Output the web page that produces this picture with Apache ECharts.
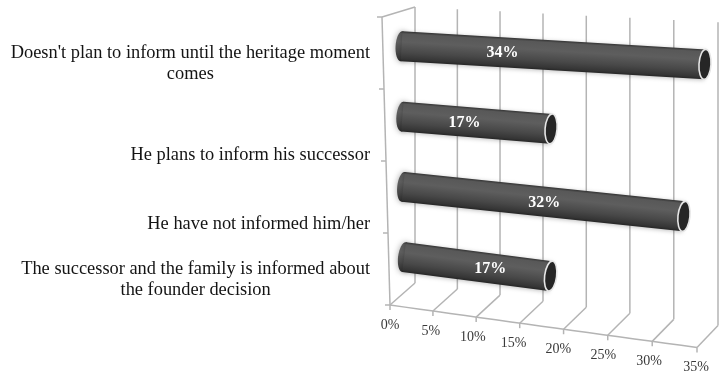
<!DOCTYPE html>
<html>
<head>
<meta charset="utf-8">
<script src="https://cdn.jsdelivr.net/npm/echarts@6/dist/echarts.min.js"></script>
<style>
  html, body { margin: 0; padding: 0; background: #ffffff; }
  #chart { width: 720px; height: 374px; }
</style>
</head>
<body>
<div id="chart"></div>
<script>
// Survey answers: has the founder informed the successor?
const categories = [
  "Doesn't plan to inform until the heritage moment comes",
  'He plans to inform his successor',
  'He have not informed him/her',
  'The successor and the family is informed about the founder decision'
];
const shares = [34, 17, 32, 17];
const tickValues = [0, 5, 10, 15, 20, 25, 30, 35];
const tickLabels = ['0%', '5%', '10%', '15%', '20%', '25%', '30%', '35%'];

const X_MIN = 0, X_MAX = 35, X_STEP = 5;
const SERIF = '"Liberation Serif", "Times New Roman", serif';
const LABEL_SIZE = 18.4;
const GRID_COLOR = '#b4b4b4';
const BAR_DEPTH = 0.42;

// Pseudo-3D projection with perspective: the cartesian grid is the back wall,
// depth 0 = back wall, depth 1 = front edge of the floor.
function project(px, py, depth, cs) {
  const u = px - cs.x;
  const w = u / cs.width;
  const t = (py - cs.y) / cs.height;
  // slight widening towards the right
  const xBack = cs.x + cs.width * w * (0.975 + 0.025 * w);
  // receding edges converge towards the right
  const shrink = 1 - (0.79 - 0.63 * t) * w;
  const dx = (-33 + 8 * t) * shrink * depth;
  const dy = (10 + 12 * t) * depth;
  const y = py + (0.05 + 0.09 * t) * u + dy;
  return [xBack + dx, y];
}

function seg(a, b) {
  return {
    type: 'line',
    shape: { x1: a[0], y1: a[1], x2: b[0], y2: b[1] },
    style: { stroke: GRID_COLOR, lineWidth: 1.5 }
  };
}

// Walls, floor lines and the front edge
function renderFrame(params, api) {
  const cs = params.coordSys;
  const v = api.value(0);
  const px = api.coord([v, 0])[0];
  const top = cs.y, bot = cs.y + cs.height;
  const bt = project(px, top, 0, cs);
  const bb = project(px, bot, 0, cs);
  const fb = project(px, bot, 1, cs);
  const children = [seg(bt, bb), seg(bb, fb), seg(fb, [fb[0], fb[1] + 5])];
  if (params.dataIndex === 0) {
    const ft = project(px, top, 1, cs);
    children.push(seg(bt, ft), seg(ft, fb));
    const xEnd = api.coord([X_MAX, 0])[0];
    const pts = [];
    for (let k = 0; k <= 20; k++) {
      pts.push(project(px + (xEnd - px) * k / 20, bot, 1, cs));
    }
    children.push({ type: 'polyline', shape: { points: pts }, style: { stroke: GRID_COLOR, lineWidth: 1.5, fill: null } });
    for (let k = 0; k <= categories.length; k++) {
      const p = project(px, top + cs.height * k / categories.length, 1, cs);
      children.push(seg(p, [p[0] - 5, p[1]]));
    }
  }
  return { type: 'group', children };
}

const bodyFill = new echarts.graphic.LinearGradient(0, 0, 0, 1, [
  { offset: 0, color: '#333333' },
  { offset: 0.08, color: '#585858' },
  { offset: 0.35, color: '#5e5e5e' },
  { offset: 0.7, color: '#484848' },
  { offset: 0.92, color: '#353535' },
  { offset: 1, color: '#262626' }
]);

// Cylinder bars
function renderCylinder(params, api) {
  const cs = params.coordSys;
  const v = api.value(0);
  const ci = api.value(1);
  const a = api.coord([0, ci]);
  const b = api.coord([v, ci]);
  const p0 = project(a[0], a[1], BAR_DEPTH, cs);
  const p1 = project(b[0], b[1], BAR_DEPTH, cs);
  const len = Math.hypot(p1[0] - p0[0], p1[1] - p0[1]);
  const ang = Math.atan2(p1[1] - p0[1], p1[0] - p0[0]);
  const rx = 6, ry = 15;
  // value labels drift right on the lower rows
  const t = (a[1] - cs.y) / cs.height;
  const f = 0.29 + 0.34 * t;
  return {
    type: 'group',
    children: [
      {
        type: 'group',
        x: p0[0], y: p0[1], rotation: -ang,
        children: [
          {
            type: 'ellipse',
            shape: { cx: 0, cy: 0, rx: rx, ry: ry },
            style: { fill: bodyFill, shadowBlur: 6, shadowColor: 'rgba(0,0,0,0.35)' }
          },
          {
            type: 'rect',
            shape: { x: 0, y: -ry, width: len, height: 2 * ry },
            style: { fill: bodyFill, shadowBlur: 4, shadowColor: 'rgba(0,0,0,0.25)', shadowOffsetY: 1 }
          },
          {
            type: 'ellipse',
            shape: { cx: len, cy: 0, rx: rx, ry: ry },
            style: { fill: '#262626', stroke: '#e6e6e6', lineWidth: 1.6 }
          }
        ]
      },
      {
        type: 'text',
        x: p0[0] + (p1[0] - p0[0]) * f,
        y: p0[1] + (p1[1] - p0[1]) * f + 1,
        style: {
          text: v + '%',
          fill: '#ffffff',
          font: 'bold 16px ' + SERIF,
          align: 'center',
          verticalAlign: 'middle'
        }
      }
    ]
  };
}

// Category names wrapped into centred lines, right-aligned as a block
const measureCtx = document.createElement('canvas').getContext('2d');
measureCtx.font = LABEL_SIZE + 'px ' + SERIF;
const WRAP_WIDTH = 20.2 * LABEL_SIZE;
function wrapLabel(text) {
  const words = text.split(' ');
  const lines = [];
  let cur = '';
  words.forEach(w => {
    const next = cur ? cur + ' ' + w : w;
    if (cur && measureCtx.measureText(next).width > WRAP_WIDTH) {
      lines.push(cur);
      cur = w;
    } else {
      cur = next;
    }
  });
  if (cur) lines.push(cur);
  return lines.map(l => '{c|' + l + '}').join('\n');
}

// Per-label vertical nudges of the category names
const labelPadding = [[0, 0, 15, 0], [24, 0, 0, 0], [18, 0, 0, 0], [0, 0, 13, 0]];

// Front tick labels step down along the slanted floor edge
const tickShiftRight = [0, 6, 10, 16, 14, 12, 8, 2];
const tickRich = {};
tickLabels.forEach((t, i) => { tickRich['t' + i] = { padding: [i * 6, tickShiftRight[i], 0, 0] }; });

const chart = echarts.init(document.getElementById('chart'), null, { renderer: 'canvas' });
chart.setOption({
  animation: false,
  backgroundColor: '#ffffff',
  grid: [
    { left: 415, top: 7, width: 303, height: 276 },
    { left: 390, top: 17, width: 307, bottom: 69 },
    { left: 378, top: 35.8, width: 1, bottom: 51.8 }
  ],
  xAxis: [
    { gridIndex: 0, type: 'value', min: X_MIN, max: X_MAX, interval: X_STEP, show: false },
    {
      gridIndex: 1, type: 'value', min: X_MIN, max: X_MAX, interval: X_STEP,
      axisLine: { show: false }, axisTick: { show: false }, splitLine: { show: false },
      axisLabel: {
        margin: 13,
        fontFamily: SERIF, fontSize: 14, color: '#3a3a3a',
        formatter: (value, index) => '{t' + index + '|' + tickLabels[index] + '}',
        rich: tickRich
      }
    },
    { gridIndex: 2, type: 'value', show: false }
  ],
  yAxis: [
    { gridIndex: 0, type: 'category', inverse: true, data: categories, show: false },
    { gridIndex: 1, type: 'category', inverse: true, data: categories, show: false },
    {
      gridIndex: 2, type: 'category', inverse: true,
      data: categories.map((c, i) => ({ value: c, textStyle: { padding: labelPadding[i] } })),
      axisLine: { show: false }, axisTick: { show: false }, splitLine: { show: false },
      axisLabel: {
        margin: 8,
        fontFamily: SERIF, fontSize: LABEL_SIZE, color: '#141414',
        lineHeight: 21,
        formatter: wrapLabel,
        rich: { c: { align: 'center', fontFamily: SERIF, fontSize: LABEL_SIZE, color: '#141414', lineHeight: 21 } }
      }
    }
  ],
  series: [
    {
      type: 'custom',
      name: 'frame',
      xAxisIndex: 0, yAxisIndex: 0,
      renderItem: renderFrame,
      data: tickValues.map(v => [v, 0]),
      encode: { x: 0, y: 1 },
      silent: true
    },
    {
      type: 'custom',
      name: 'Share',
      xAxisIndex: 0, yAxisIndex: 0,
      renderItem: renderCylinder,
      data: shares.map((v, i) => [v, i]),
      encode: { x: 0, y: 1 }
    }
  ]
});
</script>
</body>
</html>
